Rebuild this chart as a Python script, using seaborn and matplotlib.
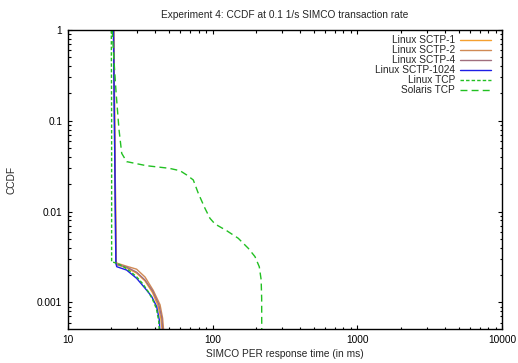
import numpy as np
import pandas as pd
import matplotlib
matplotlib.use("Agg")
import matplotlib.pyplot as plt
import matplotlib.ticker as mticker
import seaborn as sns

title = "Experiment 4: CCDF at 0.1 1/s SIMCO transaction rate"
xlabel = "SIMCO PER response time (in ms)"
ylabel = "CCDF"

x_ticks = [10, 100, 1000, 10000]
x_ticklabels = ["10", "100", "1000", "10000"]
y_ticks = [1, 0.1, 0.01, 0.001]
y_ticklabels = ["1", "0.1", "0.01", "0.001"]

sctp1_x = [20.8, 21.1, 21.6, 21.9, 25.5, 29.9, 34.2, 38.5, 42.0, 44.0, 44.8]
sctp1_y = [1.0, 0.1, 0.0027, 0.0026, 0.0024, 0.0021, 0.00172, 0.00128, 0.00092, 0.00066, 0.0005]

sctp2_x = [20.8, 21.1, 21.6, 21.9, 25.5, 29.9, 34.2, 39.0, 43.4, 45.2, 45.9]
sctp2_y = [1.0, 0.1, 0.0028, 0.0027, 0.0025, 0.00232, 0.0019, 0.00135, 0.00094, 0.00067, 0.0005]

sctp4_x = [20.7, 21.0, 21.5, 21.8, 25.5, 29.9, 34.2, 38.7, 42.5, 44.6, 45.3]
sctp4_y = [1.0, 0.1, 0.0027, 0.0026, 0.00245, 0.00215, 0.00176, 0.00132, 0.00095, 0.00068, 0.0005]

sctp1024_x = [20.7, 21.0, 21.5, 21.8, 25.5, 29.9, 34.2, 38.0, 41.1, 42.9, 43.2]
sctp1024_y = [1.0, 0.1, 0.0027, 0.00247, 0.00227, 0.00184, 0.00143, 0.00116, 0.0009, 0.00064, 0.0005]

ltcp_x = [20.0, 20.1, 20.1, 21.8, 24.0, 27.0, 30.0, 33.0, 36.0, 38.5, 41.0, 42.5, 42.8]
ltcp_y = [1.0, 0.1, 0.0028, 0.0027, 0.0025, 0.0022, 0.0019, 0.0016, 0.00131, 0.00108, 0.00085, 0.00062, 0.0005]

stcp_x = [20.3, 20.8, 21.6, 22.6, 23.6, 25.5, 35.0, 50.0, 59.6, 66.3, 73.6, 79.7, 88.6,
          95.9, 103.9, 125.1, 150.4, 176.4, 196.2, 210.1, 216.5, 218.2, 218.5]
stcp_y = [1.0, 0.5, 0.2, 0.08, 0.0438, 0.0355, 0.032, 0.030, 0.0282, 0.0253, 0.0223, 0.0159, 0.01087,
          0.00844, 0.0073, 0.00616, 0.00508, 0.00394, 0.00319, 0.00247, 0.00177, 0.00111, 0.0005]

series = [
    ("Linux SCTP-1", sctp1_x, sctp1_y, "#F5A030", "-"),
    ("Linux SCTP-2", sctp2_x, sctp2_y, "#D08A55", "-"),
    ("Linux SCTP-4", sctp4_x, sctp4_y, "#A06E7E", "-"),
    ("Linux SCTP-1024", sctp1024_x, sctp1024_y, "#1E1EE6", "-"),
    ("Linux TCP", ltcp_x, ltcp_y, "#22C022", (0, (2.5, 1.5))),
    ("Solaris TCP", stcp_x, stcp_y, "#22C022", (0, (5, 3))),
]

sns.set_style("ticks")
plt.rcParams["font.family"] = ["Liberation Sans", "DejaVu Sans"]
fs = 7.3

fig = plt.figure(figsize=(5.18, 3.63), dpi=100)
ax = fig.add_axes([67.7 / 518, 1 - 329.3 / 363, (502.3 - 67.7) / 518, (329.3 - 30) / 363])

for name, xs, ys, col, ls in series:
    df = pd.DataFrame({"x": xs, "y": ys})
    sns.lineplot(data=df, x="x", y="y", ax=ax, color=col, linestyle=ls,
                 linewidth=1.0, estimator=None, sort=False, label=name)

ax.set_xscale("log")
ax.set_yscale("log")
ax.set_xlim(10, 10000)
ax.set_ylim(0.000505, 1)
ax.xaxis.set_major_locator(mticker.FixedLocator(x_ticks))
ax.xaxis.set_major_formatter(mticker.FixedFormatter(x_ticklabels))
ax.yaxis.set_major_locator(mticker.FixedLocator(y_ticks))
ax.yaxis.set_major_formatter(mticker.FixedFormatter(y_ticklabels))
ax.xaxis.set_minor_locator(mticker.LogLocator(base=10, subs=np.arange(2, 10)))
ax.yaxis.set_minor_locator(mticker.LogLocator(base=10, subs=np.arange(2, 10)))
ax.xaxis.set_minor_formatter(mticker.NullFormatter())
ax.yaxis.set_minor_formatter(mticker.NullFormatter())
ax.tick_params(which="both", direction="in", top=True, right=True, colors="black",
               labelsize=fs, width=0.8)
ax.tick_params(which="major", length=3.2, pad=4)
ax.tick_params(which="minor", length=1.8)
for s in ax.spines.values():
    s.set_linewidth(1.0)
    s.set_color("black")

ax.set_title(title, fontsize=fs, pad=9)
ax.set_xlabel(xlabel, fontsize=fs, labelpad=3)
ax.set_ylabel(ylabel, fontsize=fs, labelpad=15)

leg = ax.legend(loc="upper right", bbox_to_anchor=(0.9733, 0.983), frameon=False,
                fontsize=fs, markerfirst=False, handlelength=3.0, handletextpad=0.5,
                labelspacing=0.0, borderaxespad=0, borderpad=0)
for t in leg.get_texts():
    t.set_ha("right")

fig.savefig("out.png", dpi=100)
